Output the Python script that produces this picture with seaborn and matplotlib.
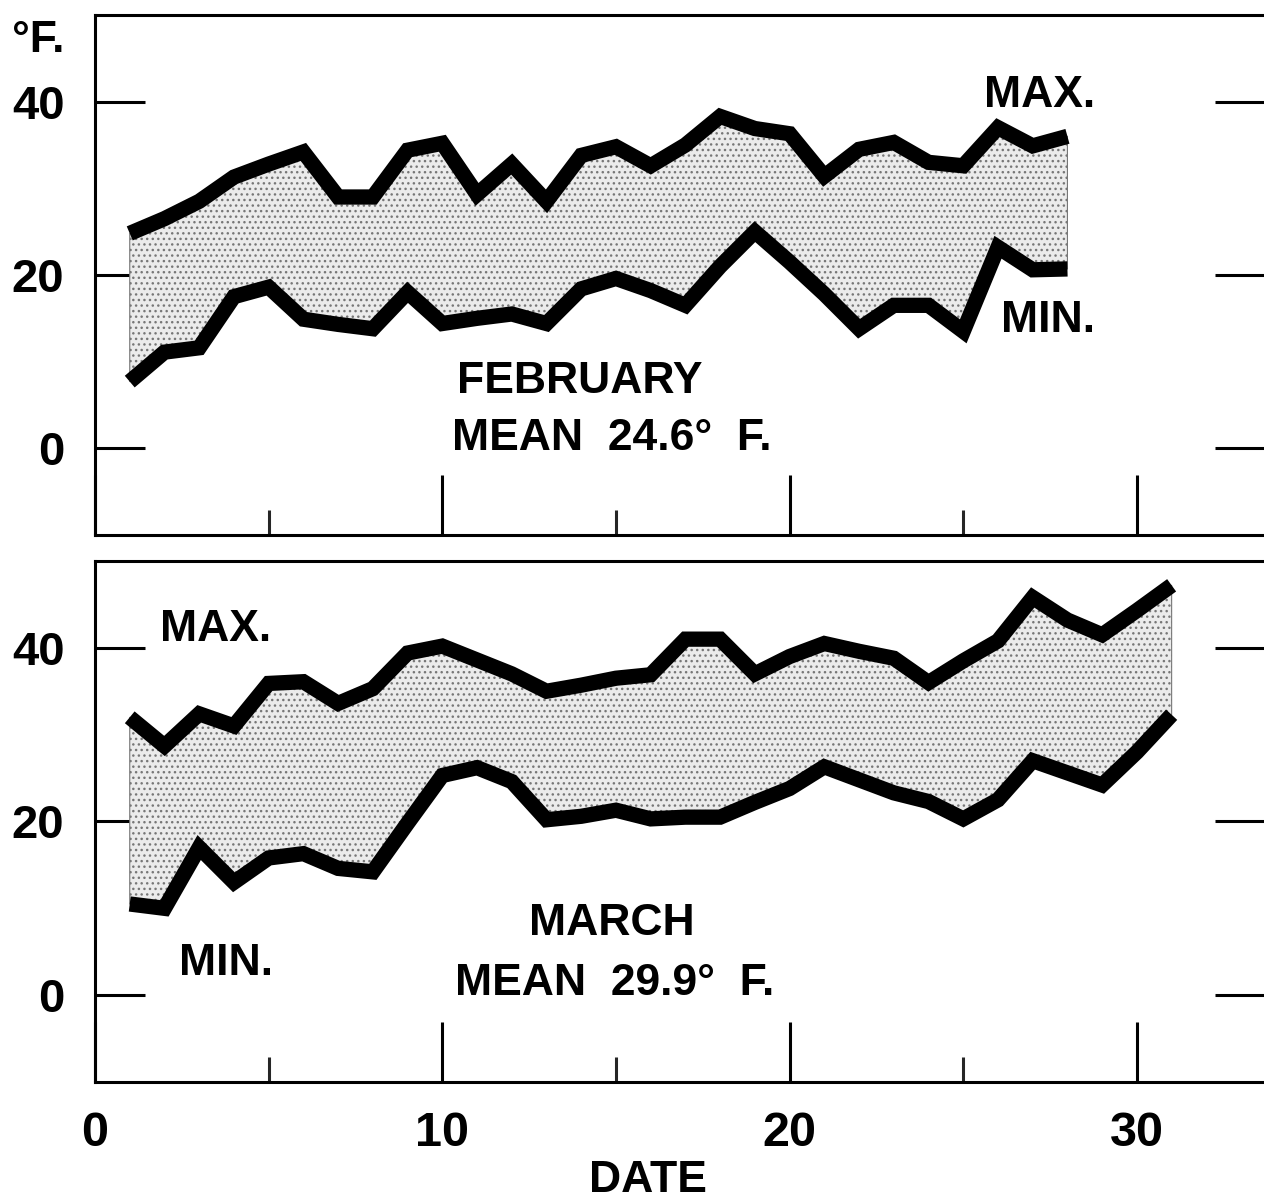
import numpy as np
import matplotlib.pyplot as plt
import seaborn as sns
import pandas as pd

# daily max / min temperatures, deg F
feb_days = list(range(1, 29))
feb_max = [24.8, 26.5, 28.5, 31.3, 32.8, 34.2, 29.0, 29.0, 34.4, 35.2,
           29.3, 32.8, 28.5, 33.8, 34.8, 32.6, 35.0, 38.3, 36.9, 36.3,
           31.4, 34.5, 35.3, 33.0, 32.6, 37.0, 34.9, 36.0]
feb_min = [7.7, 11.1, 11.6, 17.5, 18.6, 14.9, 14.3, 13.8, 18.0, 14.4,
           15.0, 15.5, 14.4, 18.4, 19.6, 18.2, 16.5, 21.0, 25.0, 21.5,
           17.8, 13.8, 16.5, 16.5, 13.5, 23.2, 20.6, 20.7]

mar_days = list(range(1, 32))
mar_max = [32.0, 28.7, 32.4, 31.0, 35.9, 36.1, 33.6, 35.3, 39.4, 40.2,
           38.6, 37.0, 35.0, 35.7, 36.5, 36.9, 41.0, 41.0, 37.0, 39.0,
           40.5, 39.6, 38.8, 36.0, 38.5, 40.8, 45.8, 43.2, 41.5, 44.3, 47.2]
mar_min = [10.5, 10.0, 17.0, 13.0, 15.8, 16.3, 14.6, 14.2, 19.8, 25.3,
           26.2, 24.6, 20.2, 20.6, 21.3, 20.3, 20.5, 20.5, 22.2, 23.8,
           26.3, 24.8, 23.3, 22.3, 20.3, 22.5, 27.0, 25.6, 24.2, 28.0, 32.3]

y_ticks = [0, 20, 40]
x_labels = ["0", "10", "20", "30"]

sns.set_style("white")
plt.rcParams['font.family'] = ['Liberation Sans', 'DejaVu Sans']
plt.rcParams['font.weight'] = 'bold'
plt.rcParams['text.color'] = 'black'
plt.rcParams['hatch.linewidth'] = 1.0
plt.rcParams['hatch.color'] = '#777777'

W, H = 1264, 1203
fig = plt.figure(figsize=(W / 100, H / 100), dpi=100)

left = 95 / W
width = (1272 - 95) / W
ax_top = fig.add_axes([left, 1 - 535 / H, width, 520 / H])
ax_bot = fig.add_axes([left, 1 - 1082 / H, width, 521 / H])
xmax = (1272 - 95) / 34.73


def draw_month(ax, days, tmax, tmin):
    df = pd.DataFrame(dict(day=days, tmax=tmax, tmin=tmin))
    ax.fill_between(df.day, df.tmin, df.tmax, facecolor='#ebebeb',
                    hatch='...', edgecolor='#777777', linewidth=0.8, zorder=1)
    for col in ["tmax", "tmin"]:
        sns.lineplot(data=df, x="day", y=col, ax=ax, color='black', linewidth=11,
                     solid_capstyle='butt', solid_joinstyle='miter', zorder=3)
    ax.set_xlim(0, xmax)
    ax.set_ylim(-10, 50)
    ax.set_xlabel("")
    ax.set_ylabel("")
    for s in ["top", "left", "bottom"]:
        ax.spines[s].set_linewidth(2.2)
        ax.spines[s].set_color('black')
    ax.spines["right"].set_visible(False)

    ax.set_yticks(y_ticks)
    ax.set_yticklabels([str(v) for v in y_ticks], fontsize=34, fontweight='bold')
    ax.tick_params(axis='y', which='major', direction='in', length=36, width=2.2,
                   left=True, right=True, labelright=False, pad=22, colors='black')
    for t in ax.yaxis.get_major_ticks():
        t.tick2line.set_markersize(41)

    ax.set_xticks([0, 10, 20, 30])
    ax.set_xticks([5, 15, 25], minor=True)
    ax.tick_params(axis='x', which='major', direction='in', length=43, width=2.2,
                   bottom=True, top=False, pad=21, colors='black')
    ax.tick_params(axis='x', which='minor', direction='in', length=18, width=2.2,
                   bottom=True, top=False)


draw_month(ax_top, feb_days, feb_max, feb_min)
draw_month(ax_bot, mar_days, mar_max, mar_min)

ax_top.tick_params(axis='x', labelbottom=False)
ax_bot.set_xticklabels(x_labels, fontsize=35, fontweight='bold')

tkw = dict(fontsize=32, fontweight='bold', ha='center', va='center', color='black')
ax_top.text(13.97, 7.7, "FEBRUARY", **tkw)
ax_top.text(14.89, 1.15, "MEAN  24.6°  F.", **tkw)
ax_top.text(27.2, 40.7, "MAX.", **tkw)
ax_top.text(27.45, 14.75, "MIN.", **tkw)

ax_bot.text(14.89, 8.2, "MARCH", **tkw)
ax_bot.text(14.97, 1.3, "MEAN  29.9°  F.", **tkw)
ax_bot.text(3.46, 42.1, "MAX.", **tkw)
ax_bot.text(3.77, 3.6, "MIN.", **tkw)

fig.text(38 / W, 1 - 40 / H, "°F.", **tkw)
fig.text(648 / W, 1 - 1181 / H, "DATE", **tkw)

fig.savefig("out.png", dpi=100, facecolor='white')
